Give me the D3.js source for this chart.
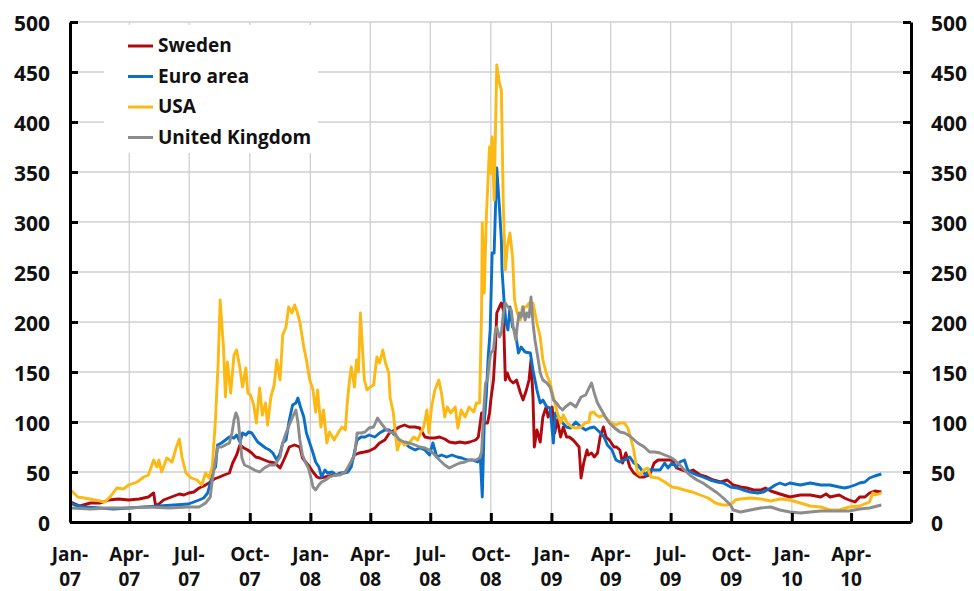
<!DOCTYPE html>
<html>
<head>
<meta charset="utf-8">
<script src="https://cdn.jsdelivr.net/npm/d3@7"></script>
<style>
  body { margin: 0; background: #fff; }
  svg text { font-family: "Open Sans", "DejaVu Sans", sans-serif; font-weight: 700; fill: #111; }
</style>
</head>
<body>
<div id="chart"></div>
<script>
// Series (basis points)
const sweden = [
  ["2007-01-02",20],["2007-01-16",16],["2007-02-01",19],["2007-02-16",19],["2007-03-01",22],["2007-03-16",23],["2007-03-31",22],["2007-04-16",23],["2007-04-30",25],["2007-05-08",29],["2007-05-11",16],["2007-05-16",18],["2007-05-23",22],["2007-05-31",24],["2007-06-08",26],["2007-06-16",28],["2007-06-23",27],["2007-06-30",29],["2007-07-08",30],["2007-07-16",34],["2007-07-23",36],["2007-07-31",39],["2007-08-08",43],["2007-08-16",45],["2007-08-23",47],["2007-08-31",49],["2007-09-05",59],["2007-09-11",67],["2007-09-16",77],["2007-09-22",74],["2007-09-28",72],["2007-10-04",69],["2007-10-10",65],["2007-10-16",64],["2007-10-23",62],["2007-10-31",60],["2007-11-08",59],["2007-11-16",54],["2007-11-23",64],["2007-11-30",75],["2007-12-08",77],["2007-12-16",75],["2007-12-20",64],["2007-12-26",59],["2007-12-31",55],
  ["2008-01-05",50],["2008-01-11",45],["2008-01-15",44],["2008-01-23",45],["2008-01-30",46],["2008-02-08",47],["2008-02-15",48],["2008-02-23",50],["2008-02-29",55],["2008-03-08",67],["2008-03-15",69],["2008-03-23",70],["2008-03-30",71],["2008-04-08",74],["2008-04-15",79],["2008-04-23",82],["2008-04-30",89],["2008-05-08",92],["2008-05-15",95],["2008-05-23",97],["2008-05-30",95],["2008-06-08",95],["2008-06-15",94],["2008-06-23",85],["2008-06-30",84],["2008-07-08",84],["2008-07-15",85],["2008-07-23",83],["2008-07-30",80],["2008-08-08",79],["2008-08-15",80],["2008-08-23",79],["2008-08-30",80],["2008-09-08",82],["2008-09-12",85],["2008-09-17",109],["2008-09-21",99],["2008-09-26",99],["2008-09-29",109],["2008-10-01",122],["2008-10-05",142],["2008-10-08",175],["2008-10-10",209],["2008-10-14",215],["2008-10-17",219],["2008-10-20",212],["2008-10-23",142],["2008-10-26",149],["2008-10-30",142],["2008-11-04",139],["2008-11-09",142],["2008-11-15",129],["2008-11-19",122],["2008-11-24",132],["2008-11-28",142],["2008-12-01",162],["2008-12-04",125],["2008-12-06",75],["2008-12-10",92],["2008-12-15",80],["2008-12-19",105],["2008-12-24",115],["2008-12-27",105],
  ["2009-01-02",115],["2009-01-06",89],["2009-01-10",102],["2009-01-15",85],["2009-01-19",95],["2009-01-24",85],["2009-01-28",85],["2009-02-03",82],["2009-02-07",79],["2009-02-12",75],["2009-02-15",44],["2009-02-19",59],["2009-02-24",72],["2009-02-26",67],["2009-03-03",69],["2009-03-07",65],["2009-03-12",69],["2009-03-16",85],["2009-03-21",95],["2009-03-25",85],["2009-03-30",82],["2009-04-06",75],["2009-04-10",75],["2009-04-15",72],["2009-04-19",59],["2009-04-24",69],["2009-04-30",55],["2009-05-06",49],["2009-05-15",45],["2009-05-22",45],["2009-05-30",47],["2009-06-06",59],["2009-06-12",62],["2009-06-19",62],["2009-06-27",62],["2009-07-03",62],["2009-07-10",54],["2009-07-18",52],["2009-07-27",50],["2009-08-04",52],["2009-08-15",47],["2009-08-25",45],["2009-09-04",42],["2009-09-15",40],["2009-09-25",42],["2009-10-04",37],["2009-10-15",35],["2009-10-25",34],["2009-11-04",32],["2009-11-15",32],["2009-11-22",34],["2009-11-30",31],["2009-12-14",28],["2009-12-29",25],
  ["2010-01-14",27],["2010-01-29",27],["2010-02-14",25],["2010-02-22",28],["2010-02-28",25],["2010-03-14",27],["2010-03-22",24],["2010-03-29",22],["2010-04-07",20],["2010-04-14",25],["2010-04-22",25],["2010-04-29",29],["2010-05-07",31],["2010-05-17",30]
];

const euroArea = [
  ["2007-01-02",19],["2007-01-08",17],["2007-01-23",15],["2007-02-16",14],["2007-03-08",13],["2007-03-31",14],["2007-04-23",15],["2007-05-16",16],["2007-06-08",17],["2007-06-30",18],["2007-07-16",22],["2007-07-23",24],["2007-07-29",29],["2007-08-02",39],["2007-08-07",52],["2007-08-10",55],["2007-08-13",77],["2007-08-19",79],["2007-08-25",82],["2007-08-31",85],["2007-09-07",84],["2007-09-11",87],["2007-09-16",80],["2007-09-20",89],["2007-09-25",87],["2007-09-29",90],["2007-10-04",89],["2007-10-08",85],["2007-10-13",80],["2007-10-19",77],["2007-10-25",74],["2007-10-31",72],["2007-11-05",69],["2007-11-11",62],["2007-11-16",69],["2007-11-20",79],["2007-11-25",82],["2007-11-30",102],["2007-12-05",117],["2007-12-10",119],["2007-12-13",124],["2007-12-17",115],["2007-12-22",105],["2007-12-26",89],["2007-12-31",79],
  ["2008-01-05",69],["2008-01-09",60],["2008-01-14",55],["2008-01-18",45],["2008-01-23",52],["2008-01-27",49],["2008-02-03",50],["2008-02-09",47],["2008-02-15",49],["2008-02-21",49],["2008-02-27",50],["2008-03-03",55],["2008-03-08",70],["2008-03-12",82],["2008-03-18",85],["2008-03-24",85],["2008-03-30",87],["2008-04-08",85],["2008-04-15",89],["2008-04-23",92],["2008-04-30",92],["2008-05-08",87],["2008-05-15",82],["2008-05-23",79],["2008-05-30",75],["2008-06-08",72],["2008-06-15",74],["2008-06-23",72],["2008-06-30",67],["2008-07-05",79],["2008-07-11",65],["2008-07-18",67],["2008-07-26",65],["2008-08-03",67],["2008-08-11",65],["2008-08-18",64],["2008-08-26",62],["2008-09-03",62],["2008-09-11",60],["2008-09-15",65],["2008-09-18",25],["2008-09-21",99],["2008-09-24",125],["2008-09-27",165],["2008-09-30",192],["2008-10-03",269],["2008-10-06",269],["2008-10-08",312],["2008-10-10",354],["2008-10-14",315],["2008-10-17",282],["2008-10-18",252],["2008-10-21",222],["2008-10-24",199],["2008-10-27",192],["2008-10-30",215],["2008-11-03",195],["2008-11-06",192],["2008-11-09",182],["2008-11-12",169],["2008-11-16",175],["2008-11-22",170],["2008-11-30",169],["2008-12-04",152],["2008-12-10",132],["2008-12-15",119],["2008-12-19",122],["2008-12-25",115],["2008-12-30",114],
  ["2009-01-04",79],["2009-01-07",109],["2009-01-12",105],["2009-01-18",99],["2009-01-24",95],["2009-01-30",94],["2009-02-07",100],["2009-02-15",95],["2009-02-22",92],["2009-02-28",94],["2009-03-07",95],["2009-03-15",90],["2009-03-22",85],["2009-03-27",77],["2009-04-03",72],["2009-04-09",62],["2009-04-15",60],["2009-04-22",62],["2009-04-30",65],["2009-05-06",59],["2009-05-12",57],["2009-05-18",52],["2009-05-24",47],["2009-05-30",52],["2009-06-07",52],["2009-06-15",52],["2009-06-22",59],["2009-06-27",54],["2009-07-03",59],["2009-07-10",55],["2009-07-15",60],["2009-07-22",62],["2009-07-27",52],["2009-08-03",49],["2009-08-10",47],["2009-08-19",45],["2009-08-30",42],["2009-09-10",40],["2009-09-19",39],["2009-09-30",35],["2009-10-10",34],["2009-10-19",32],["2009-10-30",30],["2009-11-10",29],["2009-11-19",30],["2009-11-30",34],["2009-12-07",37],["2009-12-14",39],["2009-12-22",37],["2009-12-29",39],
  ["2010-01-14",37],["2010-01-29",39],["2010-02-14",37],["2010-02-28",37],["2010-03-14",35],["2010-03-22",34],["2010-03-29",35],["2010-04-07",37],["2010-04-14",39],["2010-04-22",40],["2010-04-29",44],["2010-05-07",46],["2010-05-17",48]
];

const usa = [
  ["2007-01-02",32],["2007-01-13",25],["2007-01-23",24],["2007-02-08",22],["2007-02-23",20],["2007-03-04",26],["2007-03-13",34],["2007-03-23",33],["2007-03-31",37],["2007-04-13",40],["2007-04-23",45],["2007-04-30",47],["2007-05-08",62],["2007-05-13",55],["2007-05-16",62],["2007-05-20",50],["2007-05-28",64],["2007-06-05",60],["2007-06-11",74],["2007-06-16",83],["2007-06-20",65],["2007-06-26",49],["2007-07-04",44],["2007-07-13",42],["2007-07-20",37],["2007-07-26",49],["2007-07-31",44],["2007-08-05",55],["2007-08-10",104],["2007-08-14",160],["2007-08-17",222],["2007-08-22",175],["2007-08-25",125],["2007-08-28",160],["2007-09-02",129],["2007-09-07",167],["2007-09-11",172],["2007-09-16",154],["2007-09-20",135],["2007-09-25",154],["2007-09-28",129],["2007-10-02",127],["2007-10-07",117],["2007-10-11",99],["2007-10-16",134],["2007-10-20",107],["2007-10-25",119],["2007-10-28",97],["2007-11-02",125],["2007-11-07",137],["2007-11-11",162],["2007-11-16",142],["2007-11-20",187],["2007-11-25",195],["2007-11-29",215],["2007-12-04",209],["2007-12-08",217],["2007-12-11",212],["2007-12-16",200],["2007-12-22",175],["2007-12-26",162],["2007-12-31",142],
  ["2008-01-05",132],["2008-01-09",110],["2008-01-12",132],["2008-01-17",95],["2008-01-21",112],["2008-01-26",79],["2008-01-30",90],["2008-02-06",82],["2008-02-12",89],["2008-02-18",95],["2008-02-23",92],["2008-02-26",119],["2008-02-29",139],["2008-03-03",155],["2008-03-08",135],["2008-03-11",162],["2008-03-14",150],["2008-03-17",209],["2008-03-20",175],["2008-03-23",142],["2008-03-27",132],["2008-04-01",135],["2008-04-06",137],["2008-04-11",165],["2008-04-15",159],["2008-04-20",172],["2008-04-24",159],["2008-04-29",149],["2008-05-01",125],["2008-05-06",109],["2008-05-09",89],["2008-05-12",72],["2008-05-17",82],["2008-05-23",77],["2008-05-30",79],["2008-06-06",85],["2008-06-12",82],["2008-06-17",90],["2008-06-21",95],["2008-06-26",112],["2008-06-29",89],["2008-07-03",115],["2008-07-08",132],["2008-07-14",142],["2008-07-18",129],["2008-07-23",105],["2008-07-27",115],["2008-08-01",109],["2008-08-08",115],["2008-08-12",94],["2008-08-17",112],["2008-08-23",105],["2008-08-29",115],["2008-09-05",110],["2008-09-09",119],["2008-09-14",119],["2008-09-17",215],["2008-09-18",299],["2008-09-21",229],["2008-09-24",302],["2008-09-29",375],["2008-10-01",349],["2008-10-03",385],["2008-10-06",322],["2008-10-10",457],["2008-10-14",439],["2008-10-17",432],["2008-10-20",315],["2008-10-23",252],["2008-10-26",275],["2008-10-30",289],["2008-11-03",265],["2008-11-06",222],["2008-11-10",209],["2008-11-15",202],["2008-11-18",215],["2008-11-24",215],["2008-11-28",219],["2008-12-04",219],["2008-12-10",199],["2008-12-15",185],["2008-12-19",162],["2008-12-25",147],["2008-12-30",139],
  ["2009-01-04",125],["2009-01-10",109],["2009-01-15",99],["2009-01-19",107],["2009-01-25",99],["2009-02-01",95],["2009-02-07",94],["2009-02-15",95],["2009-02-21",99],["2009-02-27",100],["2009-03-01",109],["2009-03-06",110],["2009-03-10",107],["2009-03-15",105],["2009-03-21",107],["2009-03-27",102],["2009-04-03",99],["2009-04-09",97],["2009-04-15",99],["2009-04-22",99],["2009-04-27",94],["2009-05-01",85],["2009-05-06",72],["2009-05-09",59],["2009-05-12",49],["2009-05-16",47],["2009-05-21",52],["2009-05-27",54],["2009-06-01",45],["2009-06-12",44],["2009-06-22",40],["2009-07-03",35],["2009-07-12",34],["2009-07-22",32],["2009-08-03",30],["2009-08-15",27],["2009-08-27",24],["2009-09-07",19],["2009-09-18",17],["2009-09-26",17],["2009-10-03",19],["2009-10-07",22],["2009-10-15",23],["2009-10-30",24],["2009-11-15",23],["2009-11-30",21],["2009-12-14",23],["2009-12-29",22],
  ["2010-01-14",19],["2010-01-29",16],["2010-02-14",15],["2010-02-28",12],["2010-03-14",12],["2010-03-29",15],["2010-04-14",16],["2010-04-29",20],["2010-05-04",29],["2010-05-08",27],["2010-05-17",29]
];

const unitedKingdom = [
  ["2007-01-02",14],["2007-02-01",13],["2007-03-01",14],["2007-03-31",14],["2007-04-30",15],["2007-05-31",14],["2007-06-30",15],["2007-07-16",15],["2007-07-26",19],["2007-08-02",25],["2007-08-05",42],["2007-08-10",62],["2007-08-13",75],["2007-08-19",75],["2007-08-25",77],["2007-08-31",79],["2007-09-04",89],["2007-09-07",102],["2007-09-10",109],["2007-09-13",104],["2007-09-16",85],["2007-09-19",64],["2007-09-23",57],["2007-09-30",55],["2007-10-08",52],["2007-10-16",50],["2007-10-23",54],["2007-10-31",57],["2007-11-08",57],["2007-11-16",65],["2007-11-20",79],["2007-11-25",89],["2007-11-30",97],["2007-12-05",105],["2007-12-10",112],["2007-12-13",100],["2007-12-16",82],["2007-12-20",67],["2007-12-25",59],["2007-12-29",54],
  ["2008-01-02",44],["2008-01-05",35],["2008-01-09",32],["2008-01-14",37],["2008-01-18",40],["2008-01-24",42],["2008-01-30",45],["2008-02-08",47],["2008-02-15",47],["2008-02-23",50],["2008-02-29",57],["2008-03-08",67],["2008-03-12",89],["2008-03-18",89],["2008-03-24",90],["2008-03-30",94],["2008-04-06",95],["2008-04-12",104],["2008-04-17",99],["2008-04-23",94],["2008-04-30",90],["2008-05-08",89],["2008-05-15",82],["2008-05-23",80],["2008-05-30",79],["2008-06-08",77],["2008-06-15",75],["2008-06-23",74],["2008-06-30",72],["2008-07-08",67],["2008-07-15",62],["2008-07-23",57],["2008-07-30",54],["2008-08-08",57],["2008-08-15",59],["2008-08-23",60],["2008-08-30",62],["2008-09-08",62],["2008-09-14",64],["2008-09-17",70],["2008-09-20",110],["2008-09-23",139],["2008-09-26",142],["2008-09-29",162],["2008-10-01",169],["2008-10-05",172],["2008-10-08",192],["2008-10-10",195],["2008-10-14",185],["2008-10-17",189],["2008-10-20",209],["2008-10-23",219],["2008-10-27",215],["2008-11-01",212],["2008-11-04",195],["2008-11-08",182],["2008-11-10",195],["2008-11-13",209],["2008-11-16",205],["2008-11-19",215],["2008-11-22",202],["2008-11-25",209],["2008-11-28",205],["2008-12-01",225],["2008-12-04",199],["2008-12-07",182],["2008-12-12",162],["2008-12-15",149],["2008-12-19",142],["2008-12-25",139],["2008-12-30",135],
  ["2009-01-04",122],["2009-01-09",119],["2009-01-13",115],["2009-01-18",112],["2009-01-22",115],["2009-01-30",119],["2009-02-07",115],["2009-02-15",125],["2009-02-22",127],["2009-02-27",134],["2009-03-03",139],["2009-03-07",129],["2009-03-12",119],["2009-03-18",112],["2009-03-24",105],["2009-03-30",99],["2009-04-07",94],["2009-04-15",90],["2009-04-22",89],["2009-04-30",86],["2009-05-12",79],["2009-05-22",75],["2009-05-30",70],["2009-06-07",70],["2009-06-15",69],["2009-06-22",67],["2009-06-30",65],["2009-07-07",62],["2009-07-15",57],["2009-07-22",52],["2009-07-30",47],["2009-08-10",42],["2009-08-19",39],["2009-08-30",34],["2009-09-10",29],["2009-09-19",24],["2009-09-30",17],["2009-10-04",12],["2009-10-15",10],["2009-10-30",12],["2009-11-15",14],["2009-11-30",15],["2009-12-14",12],["2009-12-29",10],
  ["2010-01-14",9],["2010-01-29",10],["2010-02-14",11],["2010-02-28",11],["2010-03-14",11],["2010-03-29",11],["2010-04-14",13],["2010-04-29",14],["2010-05-17",17]
];

const seriesNames = ["Sweden", "Euro area", "USA", "United Kingdom"];
const seriesColors = ["#b00a0f", "#0a6fc8", "#fdb913", "#8c8c8c"];
const yTicks = [0, 50, 100, 150, 200, 250, 300, 350, 400, 450, 500];

const parse = d3.timeParse("%Y-%m-%d");
const allSeries = [sweden, euroArea, usa, unitedKingdom].map(s => s.map(([d, v]) => ({ date: parse(d), value: v })));

const W = 974, H = 591;
const plotLeft = 70, plotRight = 911, plotTop = 22, plotBottom = 522;

const svg = d3.select('#chart').append('svg')
  .attr('width', W)
  .attr('height', H);

const x = d3.scaleTime()
  .domain([new Date(2007, 0, 1), new Date(2010, 6, 1)])
  .range([plotLeft, plotRight]);

const y = d3.scaleLinear()
  .domain([0, 500])
  .range([plotBottom, plotTop]);

const quarters = d3.timeMonth.range(new Date(2007, 0, 1), new Date(2010, 6, 2), 3);

// grid
svg.append('g').selectAll('line')
  .data(yTicks.filter(t => t > 0))
  .enter().append('line')
  .attr('x1', plotLeft).attr('x2', plotRight)
  .attr('y1', d => y(d)).attr('y2', d => y(d))
  .attr('stroke', '#cfcfcf').attr('stroke-width', 1.3);

svg.append('g').selectAll('line')
  .data(quarters.slice(1, -1))
  .enter().append('line')
  .attr('x1', d => x(d)).attr('x2', d => x(d))
  .attr('y1', plotTop).attr('y2', plotBottom)
  .attr('stroke', '#cfcfcf').attr('stroke-width', 1.3);

// legend background hides the grid behind it
svg.append('rect')
  .attr('x', 104).attr('y', 25)
  .attr('width', 214).attr('height', 128)
  .attr('fill', '#fff');

// lines
const line = d3.line()
  .x(d => x(d.date))
  .y(d => y(d.value));

svg.append('g').selectAll('path')
  .data(allSeries)
  .enter().append('path')
  .attr('d', line)
  .attr('fill', 'none')
  .attr('stroke', (d, i) => seriesColors[i])
  .attr('stroke-width', 2.9)
  .attr('stroke-linejoin', 'round');

// axes, ticks pointing inwards
const yLeft = d3.axisRight(y).tickValues(yTicks).tickSize(8).tickSizeOuter(0).tickFormat('');
const yRight = d3.axisLeft(y).tickValues(yTicks).tickSize(8).tickSizeOuter(0).tickFormat('');
const xAxis = d3.axisTop(x).tickValues(quarters).tickSize(9).tickSizeOuter(0).tickFormat('');

svg.append('g').attr('transform', `translate(${plotLeft},0)`).call(yLeft);
svg.append('g').attr('transform', `translate(${plotRight},0)`).call(yRight);
svg.append('g').attr('transform', `translate(0,${plotBottom})`).call(xAxis);

svg.selectAll('.domain').attr('stroke', '#000').attr('stroke-width', 3);
svg.selectAll('.tick line').attr('stroke', '#000').attr('stroke-width', 3);

// axis labels
svg.append('g').selectAll('text')
  .data(yTicks)
  .enter().append('text')
  .attr('x', 50).attr('y', d => y(d) + 3)
  .attr('text-anchor', 'end')
  .attr('dominant-baseline', 'middle')
  .attr('font-size', 21)
  .text(d => d);

svg.append('g').selectAll('text')
  .data(yTicks)
  .enter().append('text')
  .attr('x', 931).attr('y', d => y(d) + 3)
  .attr('text-anchor', 'start')
  .attr('dominant-baseline', 'middle')
  .attr('font-size', 21)
  .text(d => d);

const fmtMonth = d3.timeFormat('%b-');
const fmtYear = d3.timeFormat('%y');
const xLabels = svg.append('g').selectAll('text')
  .data(quarters.slice(0, -1))
  .enter().append('text')
  .attr('text-anchor', 'middle')
  .attr('font-size', 19);
xLabels.append('tspan').attr('x', d => x(d)).attr('y', 561).text(d => fmtMonth(d));
xLabels.append('tspan').attr('x', d => x(d)).attr('y', 586).text(d => fmtYear(d));

// legend
const legend = svg.append('g').selectAll('g')
  .data(seriesNames)
  .enter().append('g')
  .attr('transform', (d, i) => `translate(128,${46 + i * 30.5})`);

legend.append('line')
  .attr('x1', 0).attr('x2', 25)
  .attr('stroke', (d, i) => seriesColors[i])
  .attr('stroke-width', 3);

legend.append('text')
  .attr('x', 30).attr('y', 1)
  .attr('dominant-baseline', 'middle')
  .attr('font-size', 19)
  .text(d => d);
</script>
</body>
</html>
